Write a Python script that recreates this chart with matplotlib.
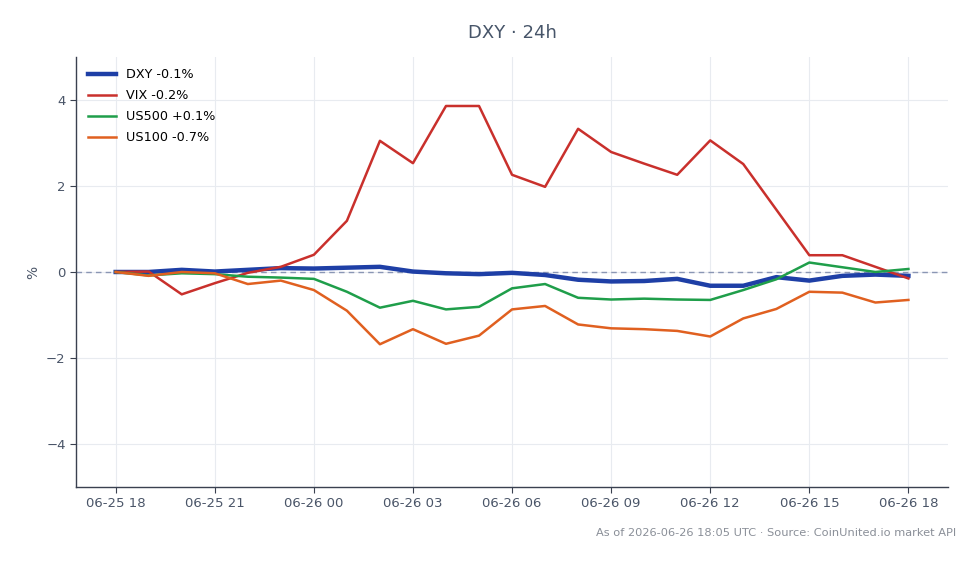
import numpy as np
import pandas as pd
import matplotlib
matplotlib.use("Agg")
import matplotlib.pyplot as plt
import matplotlib.dates as mdates

# hourly timestamps, 06-25 18:00 .. 06-26 18:00
times = pd.date_range("2026-06-25 18:00", "2026-06-26 18:00", freq="h")

dxy = [0.0, 0.0, 0.05, 0.01, 0.05, 0.09, 0.08, 0.10, 0.12, 0.01, -0.03, -0.05,
       -0.02, -0.07, -0.18, -0.22, -0.21, -0.16, -0.32, -0.32, -0.12, -0.20,
       -0.09, -0.06, -0.09]
vix = [0.0, 0.01, -0.52, -0.26, -0.02, 0.12, 0.40, 1.19, 3.05, 2.53, 3.86, 3.86,
       2.26, 1.98, 3.33, 2.79, 2.52, 2.26, 3.06, 2.51, 1.45, 0.39,
       0.39, 0.12, -0.15]
us500 = [0.0, -0.08, -0.03, -0.05, -0.11, -0.13, -0.16, -0.46, -0.83, -0.67, -0.87, -0.81,
         -0.38, -0.28, -0.60, -0.64, -0.62, -0.64, -0.65, -0.42, -0.17, 0.22,
         0.11, 0.0, 0.07]
us100 = [0.0, -0.09, 0.0, -0.03, -0.28, -0.20, -0.42, -0.90, -1.68, -1.33, -1.67, -1.48,
         -0.87, -0.79, -1.22, -1.31, -1.33, -1.37, -1.50, -1.08, -0.86, -0.46,
         -0.48, -0.71, -0.65]

labels = ["DXY -0.1%", "VIX -0.2%", "US500 +0.1%", "US100 -0.7%"]
colors = ["#1e3fa6", "#c9302c", "#1f9e4a", "#e06020"]
widths = [3.2, 1.8, 1.8, 1.8]

plt.rcParams['font.family'] = ['DejaVu Sans']

fig = plt.figure(figsize=(9.8, 5.64), dpi=100)
ax = fig.add_axes([0.0776, 0.1365, 0.8898, 0.7625])

for series, lab, col, lw in zip([dxy, vix, us500, us100], labels, colors, widths):
    ax.plot(times, series, color=col, lw=lw, label=lab)

ax.axhline(0, color="#8a96b4", lw=1, ls=(0, (4, 3)), zorder=1.5)

ax.set_ylim(-5, 5)
ax.set_yticks([-4, -2, 0, 2, 4])
ax.xaxis.set_major_locator(mdates.HourLocator(byhour=range(0, 24, 3)))
ax.xaxis.set_major_formatter(mdates.DateFormatter("%m-%d %H"))

ax.grid(True, color="#e8ebf0", lw=0.8)
ax.set_axisbelow(True)
for s in ["top", "right"]:
    ax.spines[s].set_visible(False)
for s in ["left", "bottom"]:
    ax.spines[s].set_color("#3a4150")
    ax.spines[s].set_linewidth(1.0)
ax.tick_params(colors="#3a4150", labelcolor="#4a5568", labelsize=9.5, length=4)

ax.set_ylabel("%", color="#4a5568", fontsize=10)
ax.set_title("DXY · 24h", color="#475569", fontsize=13, pad=14)

ax.legend(loc="upper left", frameon=False, fontsize=9.2, handlelength=2.2,
          borderaxespad=0.5, labelspacing=0.62)

fig.text(0.976, 0.055, "As of 2026-06-26 18:05 UTC · Source: CoinUnited.io market API",
         ha="right", va="center", color="#8a8f98", fontsize=8.2)

fig.savefig("out.png", dpi=100)
